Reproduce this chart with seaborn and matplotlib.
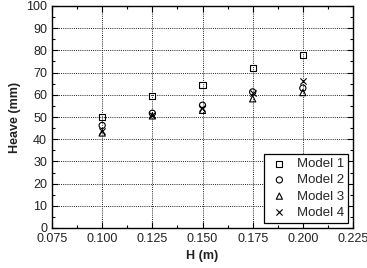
import matplotlib
matplotlib.use('Agg')
import matplotlib.pyplot as plt
import seaborn as sns
import pandas as pd
from matplotlib.ticker import MultipleLocator

# Data
H = [0.100, 0.125, 0.150, 0.175, 0.200]
model1 = [50.0, 59.5, 64.3, 72.2, 77.8]
model2 = [46.2, 51.7, 55.3, 61.3, 63.0]
model3 = [42.8, 50.5, 53.0, 58.2, 61.0]
model4 = [43.6, 51.0, 54.2, 60.7, 66.4]
models = ['Model 1', 'Model 2', 'Model 3', 'Model 4']
markers = {'Model 1': 's', 'Model 2': 'o', 'Model 3': '^', 'Model 4': 'x'}

df = pd.DataFrame({'H': H * 4,
                   'heave': model1 + model2 + model3 + model4,
                   'model': [m for m in models for _ in H]})

sns.set_style('ticks')
plt.rcParams['font.family'] = ['Liberation Sans', 'DejaVu Sans']

fig = plt.figure(figsize=(3.67, 2.68), dpi=100)
ax = fig.add_axes([52/367, 1 - 228/268, 301/367, 222/268])

for m in models:
    sub = df[df['model'] == m]
    if markers[m] == 'x':
        sns.scatterplot(data=sub, x='H', y='heave', ax=ax, marker='x', color='black',
                        s=20, linewidth=0.8, label=m, zorder=3)
    else:
        sns.scatterplot(data=sub, x='H', y='heave', ax=ax, marker=markers[m],
                        facecolor='none', edgecolor='black', s=20, linewidth=0.8,
                        label=m, zorder=3)

ax.set_xlim(0.075, 0.225)
ax.set_ylim(0, 100)
ax.xaxis.set_major_locator(MultipleLocator(0.025))
ax.xaxis.set_minor_locator(MultipleLocator(0.0125))
ax.yaxis.set_major_locator(MultipleLocator(10))
ax.yaxis.set_minor_locator(MultipleLocator(5))
ax.set_xticklabels([f'{v:.3f}' for v in ax.get_xticks()])
ax.tick_params(which='both', direction='in', top=True, right=True, labelsize=9,
               colors='black', labelcolor='#222222')
ax.tick_params(which='major', length=4, width=0.8)
ax.tick_params(which='minor', length=2.5, width=0.8)
ax.grid(True, which='major', linestyle=(0, (1, 1.2)), color='#222222', linewidth=0.7)
for sp in ax.spines.values():
    sp.set_linewidth(1.0)
    sp.set_color('black')

ax.set_xlabel('H (m)', fontweight='bold', fontsize=9, color='#222222')
ax.set_ylabel('Heave (mm)', fontweight='bold', fontsize=9, color='#222222')

leg = ax.legend(loc='lower right', frameon=True, fancybox=False, fontsize=9.5,
                handletextpad=0.4, borderpad=0.3, labelspacing=0.3,
                handlelength=1.8, borderaxespad=0.4)
leg.get_frame().set_edgecolor('black')
leg.get_frame().set_linewidth(0.9)
leg.get_frame().set_alpha(1)

fig.savefig('out.png', dpi=100)
